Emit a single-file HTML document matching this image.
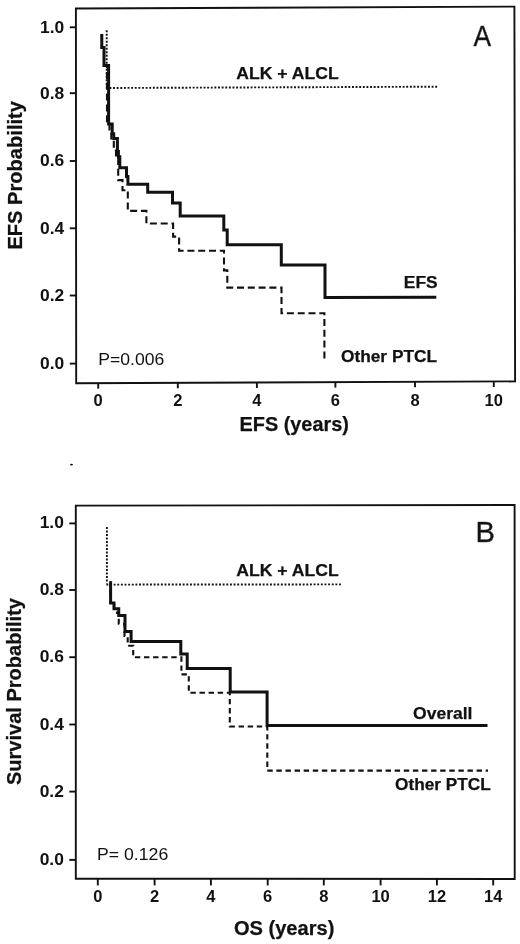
<!DOCTYPE html>
<html><head><meta charset="utf-8"><style>
html,body{margin:0;padding:0;background:#fff;}
svg{display:block;will-change:transform;}
text{font-family:"Liberation Sans", sans-serif;fill:#111;}
</style></head><body>
<svg width="520" height="944" viewBox="0 0 520 944">
<rect width="520" height="944" fill="#fff"/>
<path d="M75.9,8.5 L514.4,6.6 L515.1,381.4 L76.2,383.2 Z" fill="none" stroke="#111" stroke-width="1.9"/>
<line x1="69.8" y1="27.3" x2="76" y2="27.3" stroke="#111" stroke-width="1.9"/>
<line x1="69.8" y1="93.2" x2="76" y2="93.2" stroke="#111" stroke-width="1.9"/>
<line x1="69.8" y1="161.0" x2="76" y2="161.0" stroke="#111" stroke-width="1.9"/>
<line x1="69.8" y1="228.3" x2="76" y2="228.3" stroke="#111" stroke-width="1.9"/>
<line x1="69.8" y1="295.5" x2="76" y2="295.5" stroke="#111" stroke-width="1.9"/>
<line x1="69.8" y1="363.6" x2="76" y2="363.6" stroke="#111" stroke-width="1.9"/>
<line x1="98.2" y1="383.11" x2="98.2" y2="388.61" stroke="#111" stroke-width="1.9"/>
<line x1="177.8" y1="382.78" x2="177.8" y2="388.28" stroke="#111" stroke-width="1.9"/>
<line x1="256.9" y1="382.46" x2="256.9" y2="387.96" stroke="#111" stroke-width="1.9"/>
<line x1="335.4" y1="382.14" x2="335.4" y2="387.64" stroke="#111" stroke-width="1.9"/>
<line x1="415.0" y1="381.81" x2="415.0" y2="387.31" stroke="#111" stroke-width="1.9"/>
<line x1="493.8" y1="381.49" x2="493.8" y2="386.99" stroke="#111" stroke-width="1.9"/>
<path d="M106.7,30.3 L106.7,86.5" fill="none" stroke="#111" stroke-width="1.9" stroke-dasharray="1.9,1.6"/>
<path d="M105.83,88.0 L437.3,86.7" fill="none" stroke="#111" stroke-width="1.9" stroke-dasharray="1.9,1.72"/>
<path d="M101.80,34.00 L101.80,47.50 L104.00,47.50 L104.00,65.50 L107.00,65.50 L107.00,123.00 L109.50,123.00 L109.50,131.50 L111.30,131.50 L111.30,140.50 L113.80,140.50 L113.80,150.50 L116.00,150.50 L116.00,159.00 L118.20,159.00 L118.20,180.10 L122.50,180.10 L122.50,190.20 L127.80,190.20 L127.80,210.90 L146.40,210.90 L146.40,223.50 L173.10,223.50 L173.10,236.60 L179.10,236.60 L179.10,250.80 L224.00,250.80 L224.00,270.40 L227.30,270.40 L227.30,287.60 L281.50,287.60 L281.50,313.30 L324.40,313.30 L324.40,362.00" fill="none" stroke="#111" stroke-width="2.1" stroke-dasharray="7,3.8"/>
<path d="M101.80,34.00 L101.80,47.50 L104.00,47.50 L104.00,65.50 L108.60,65.50 L108.60,124.10 L112.20,124.10 L112.20,133.70 L113.70,133.70 L113.70,138.50 L117.40,138.50 L117.40,151.50 L118.40,151.50 L118.40,156.70 L119.80,156.70 L119.80,167.80 L126.50,167.80 L126.50,176.50 L127.90,176.50 L127.90,184.30 L147.70,184.30 L147.70,192.30 L172.50,192.30 L172.50,202.90 L180.20,202.90 L180.20,215.90 L223.80,215.90 L223.80,229.90 L227.20,229.90 L227.20,244.70 L281.30,244.70 L281.30,264.90 L325.00,264.90 L325.00,297.60 L436.30,297.30" fill="none" stroke="#111" stroke-width="3"/>
<path d="M75.8,505.6 L514.6,505.0 L514.7,879.0 L75.8,878.7 Z" fill="none" stroke="#111" stroke-width="1.9"/>
<line x1="69.3" y1="523.4" x2="75.8" y2="523.4" stroke="#111" stroke-width="1.9"/>
<line x1="69.3" y1="590.0" x2="75.8" y2="590.0" stroke="#111" stroke-width="1.9"/>
<line x1="69.3" y1="657.2" x2="75.8" y2="657.2" stroke="#111" stroke-width="1.9"/>
<line x1="69.3" y1="724.5" x2="75.8" y2="724.5" stroke="#111" stroke-width="1.9"/>
<line x1="69.3" y1="791.6" x2="75.8" y2="791.6" stroke="#111" stroke-width="1.9"/>
<line x1="69.3" y1="859.9" x2="75.8" y2="859.9" stroke="#111" stroke-width="1.9"/>
<line x1="97.8" y1="879" x2="97.8" y2="885.4" stroke="#111" stroke-width="1.9"/>
<line x1="154.6" y1="879" x2="154.6" y2="885.4" stroke="#111" stroke-width="1.9"/>
<line x1="210.9" y1="879" x2="210.9" y2="885.4" stroke="#111" stroke-width="1.9"/>
<line x1="267.7" y1="879" x2="267.7" y2="885.4" stroke="#111" stroke-width="1.9"/>
<line x1="323.8" y1="879" x2="323.8" y2="885.4" stroke="#111" stroke-width="1.9"/>
<line x1="380.6" y1="879" x2="380.6" y2="885.4" stroke="#111" stroke-width="1.9"/>
<line x1="436.9" y1="879" x2="436.9" y2="885.4" stroke="#111" stroke-width="1.9"/>
<line x1="493.2" y1="879" x2="493.2" y2="885.4" stroke="#111" stroke-width="1.9"/>
<ellipse cx="71.5" cy="464.6" rx="1.4" ry="0.85" fill="#000"/>
<path d="M106.9,527.0 L106.9,583.5" fill="none" stroke="#111" stroke-width="1.9" stroke-dasharray="1.9,1.6"/>
<path d="M106.35,584.6 L341.0,584.4" fill="none" stroke="#111" stroke-width="1.9" stroke-dasharray="1.9,1.736"/>
<path d="M110.60,581.50 L110.60,603.00 L114.00,603.00 L114.00,608.70 L117.00,608.70 L117.00,612.90 L118.75,612.90 L118.75,623.70 L124.50,623.70 L124.50,636.00 L127.70,636.00 L127.70,645.80 L133.20,645.80 L133.20,657.30 L181.40,657.30 L181.40,674.40 L188.80,674.40 L188.80,692.80 L229.80,692.80 L229.80,726.50 L267.30,726.50 L267.30,770.60 L488.00,770.60" fill="none" stroke="#111" stroke-width="2.1" stroke-dasharray="5.4,3.7"/>
<path d="M110.60,581.20 L110.60,603.00 L114.00,603.00 L114.00,608.70 L118.75,608.70 L118.75,615.50 L125.00,615.50 L125.00,631.40 L131.10,631.40 L131.10,641.40 L180.80,641.40 L180.80,654.00 L187.20,654.00 L187.20,668.40 L230.20,668.40 L230.20,692.10 L267.10,692.10 L267.10,725.60 L487.50,725.60" fill="none" stroke="#111" stroke-width="3"/>
<text x="64.30" y="32.70" font-size="16.50" font-weight="bold" text-anchor="end" textLength="24.20" lengthAdjust="spacingAndGlyphs">1.0</text>
<text x="64.30" y="98.60" font-size="16.50" font-weight="bold" text-anchor="end" textLength="24.20" lengthAdjust="spacingAndGlyphs">0.8</text>
<text x="64.30" y="166.40" font-size="16.50" font-weight="bold" text-anchor="end" textLength="24.20" lengthAdjust="spacingAndGlyphs">0.6</text>
<text x="64.30" y="233.70" font-size="16.50" font-weight="bold" text-anchor="end" textLength="24.20" lengthAdjust="spacingAndGlyphs">0.4</text>
<text x="64.30" y="300.90" font-size="16.50" font-weight="bold" text-anchor="end" textLength="24.20" lengthAdjust="spacingAndGlyphs">0.2</text>
<text x="64.30" y="369.00" font-size="16.50" font-weight="bold" text-anchor="end" textLength="24.20" lengthAdjust="spacingAndGlyphs">0.0</text>
<text x="98.20" y="405.50" font-size="16.50" font-weight="bold" text-anchor="middle">0</text>
<text x="177.80" y="405.50" font-size="16.50" font-weight="bold" text-anchor="middle">2</text>
<text x="256.90" y="405.50" font-size="16.50" font-weight="bold" text-anchor="middle">4</text>
<text x="335.40" y="405.50" font-size="16.50" font-weight="bold" text-anchor="middle">6</text>
<text x="415.00" y="405.50" font-size="16.50" font-weight="bold" text-anchor="middle">8</text>
<text x="493.80" y="405.50" font-size="16.50" font-weight="bold" text-anchor="middle">10</text>
<text x="63.90" y="528.40" font-size="16.50" font-weight="bold" text-anchor="end" textLength="24.20" lengthAdjust="spacingAndGlyphs">1.0</text>
<text x="63.90" y="595.00" font-size="16.50" font-weight="bold" text-anchor="end" textLength="24.20" lengthAdjust="spacingAndGlyphs">0.8</text>
<text x="63.90" y="662.20" font-size="16.50" font-weight="bold" text-anchor="end" textLength="24.20" lengthAdjust="spacingAndGlyphs">0.6</text>
<text x="63.90" y="729.50" font-size="16.50" font-weight="bold" text-anchor="end" textLength="24.20" lengthAdjust="spacingAndGlyphs">0.4</text>
<text x="63.90" y="796.60" font-size="16.50" font-weight="bold" text-anchor="end" textLength="24.20" lengthAdjust="spacingAndGlyphs">0.2</text>
<text x="63.90" y="864.90" font-size="16.50" font-weight="bold" text-anchor="end" textLength="24.20" lengthAdjust="spacingAndGlyphs">0.0</text>
<text x="97.80" y="902.40" font-size="16.50" font-weight="bold" text-anchor="middle">0</text>
<text x="154.60" y="902.40" font-size="16.50" font-weight="bold" text-anchor="middle">2</text>
<text x="210.90" y="902.40" font-size="16.50" font-weight="bold" text-anchor="middle">4</text>
<text x="267.70" y="902.40" font-size="16.50" font-weight="bold" text-anchor="middle">6</text>
<text x="323.80" y="902.40" font-size="16.50" font-weight="bold" text-anchor="middle">8</text>
<text x="380.60" y="902.40" font-size="16.50" font-weight="bold" text-anchor="middle">10</text>
<text x="436.90" y="902.40" font-size="16.50" font-weight="bold" text-anchor="middle">12</text>
<text x="493.20" y="902.40" font-size="16.50" font-weight="bold" text-anchor="middle">14</text>
<text x="239.52" y="431.00" font-size="20.60" font-weight="bold" stroke="#111" stroke-width="0.25" textLength="109.35" lengthAdjust="spacingAndGlyphs">EFS (years)</text>
<text transform="translate(21.50,249.60) rotate(-90)" font-size="20.30" font-weight="bold" stroke="#111" stroke-width="0.25" textLength="148.55" lengthAdjust="spacingAndGlyphs">EFS Probability</text>
<text x="473.60" y="46.00" font-size="30.00" textLength="17.60" lengthAdjust="spacingAndGlyphs" fill="#383838" stroke="#383838" stroke-width="0.45">A</text>
<text x="236.28" y="79.48" font-size="16.70" font-weight="bold" stroke="#111" stroke-width="0.25" textLength="102.43" lengthAdjust="spacingAndGlyphs">ALK + ALCL</text>
<text x="403.82" y="287.50" font-size="16.00" font-weight="bold" stroke="#111" stroke-width="0.25" textLength="33.86" lengthAdjust="spacingAndGlyphs">EFS</text>
<text x="341.00" y="362.00" font-size="16.50" font-weight="bold" stroke="#111" stroke-width="0.25" textLength="96.00" lengthAdjust="spacingAndGlyphs">Other PTCL</text>
<text x="98.32" y="364.50" font-size="17.00" textLength="66.02" lengthAdjust="spacingAndGlyphs">P=0.006</text>
<text x="233.92" y="934.70" font-size="20.30" font-weight="bold" stroke="#111" stroke-width="0.25" textLength="100.43" lengthAdjust="spacingAndGlyphs">OS (years)</text>
<text transform="translate(21.40,785.02) rotate(-90)" font-size="20.30" font-weight="bold" stroke="#111" stroke-width="0.25" textLength="186.96" lengthAdjust="spacingAndGlyphs">Survival Probability</text>
<text x="475.60" y="542.30" font-size="30.00" textLength="19.40" lengthAdjust="spacingAndGlyphs" fill="#383838" stroke="#383838" stroke-width="0.45">B</text>
<text x="236.28" y="576.48" font-size="16.70" font-weight="bold" stroke="#111" stroke-width="0.25" textLength="102.45" lengthAdjust="spacingAndGlyphs">ALK + ALCL</text>
<text x="413.00" y="719.00" font-size="17.00" font-weight="bold" stroke="#111" stroke-width="0.25" textLength="59.45" lengthAdjust="spacingAndGlyphs">Overall</text>
<text x="395.12" y="790.20" font-size="16.50" font-weight="bold" stroke="#111" stroke-width="0.25" textLength="95.69" lengthAdjust="spacingAndGlyphs">Other PTCL</text>
<text x="97.02" y="860.42" font-size="17.00" textLength="71.19" lengthAdjust="spacingAndGlyphs">P= 0.126</text>
</svg>
</body></html>
